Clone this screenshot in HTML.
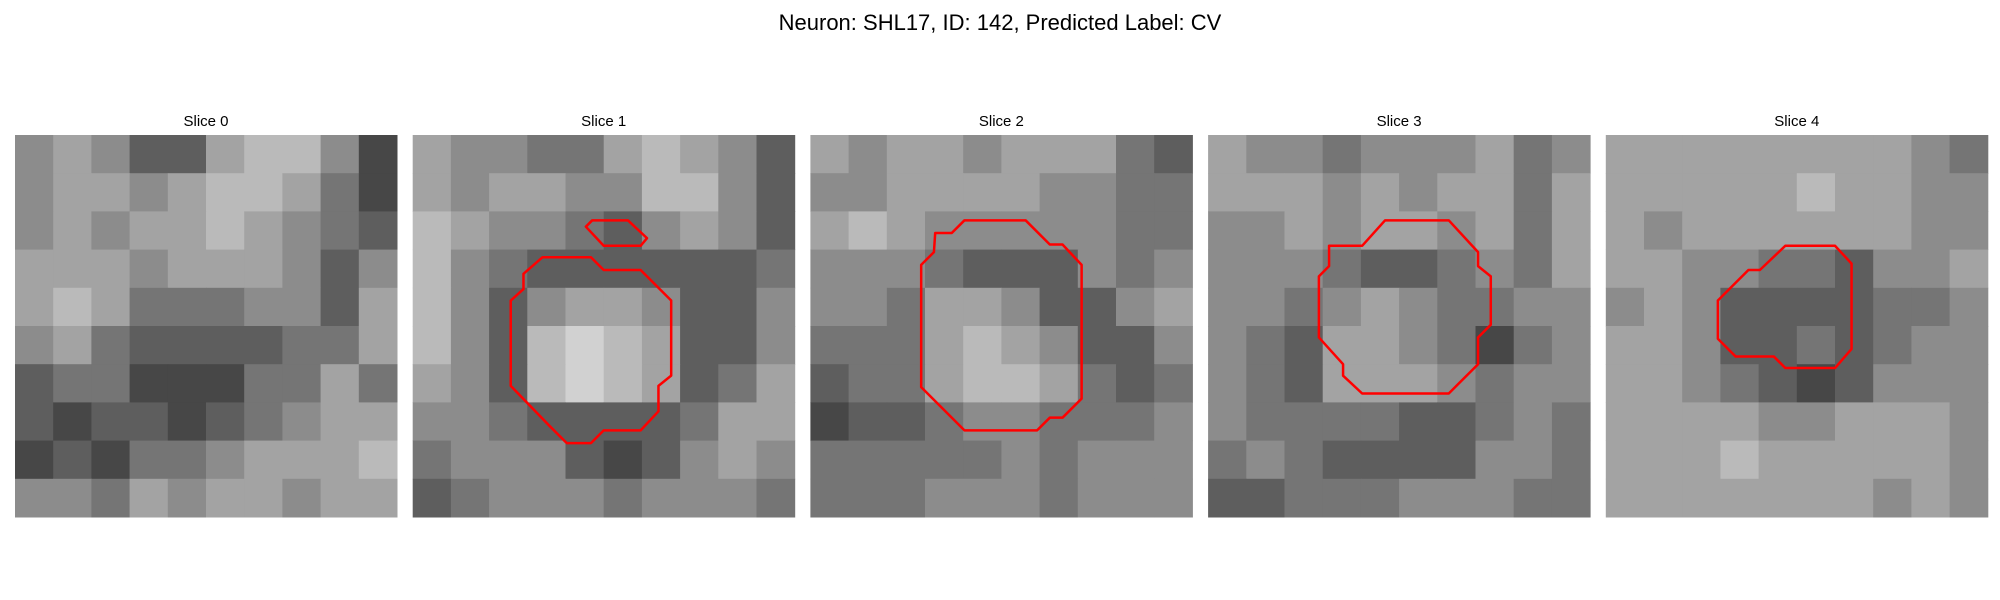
<!DOCTYPE html>
<html><head><meta charset="utf-8"><style>
body{margin:0;background:#fff;}
svg{display:block;font-family:"Liberation Sans",sans-serif;}
</style></head><body>
<svg id="fig" width="2000" height="600" viewBox="0 0 2000 600">
<text x="1000" y="30" text-anchor="middle" font-size="22" fill="#000">Neuron: SHL17, ID: 142, Predicted Label: CV</text>
</svg>
<script>
const sliceTitles = ["Slice 0","Slice 1","Slice 2","Slice 3","Slice 4"];
const slice0 = [[5,6,5,3,3,6,7,7,5,2],[5,6,6,5,6,7,7,6,4,2],[5,6,5,6,6,7,6,5,4,3],[6,6,6,5,6,6,6,5,3,5],[6,7,6,4,4,4,5,5,3,6],[5,6,4,3,3,3,3,4,4,6],[3,4,4,2,2,2,4,4,6,4],[3,2,3,3,2,3,4,5,6,6],[2,3,2,4,4,5,6,6,6,7],[5,5,4,6,5,6,6,5,6,6]];
const slice1 = [[6,5,5,4,4,6,7,6,5,3],[6,5,6,6,5,5,7,7,5,3],[7,6,5,5,4,3,5,6,5,3],[7,5,4,3,3,3,3,3,3,4],[7,5,3,5,6,6,5,3,3,5],[7,5,3,7,8,7,6,3,3,5],[6,5,3,7,8,7,6,3,4,6],[5,5,4,3,3,3,3,4,6,6],[4,5,5,5,3,2,3,5,6,5],[3,4,5,5,5,4,5,5,5,4]];
const slice2 = [[6,5,6,6,5,6,6,6,4,3],[5,5,6,6,6,6,5,5,4,4],[6,7,6,5,5,5,5,5,4,4],[5,5,5,4,3,3,3,5,4,5],[5,5,4,6,6,5,3,3,5,6],[4,4,4,6,7,6,5,3,3,5],[3,4,4,6,7,7,6,4,3,4],[2,3,3,4,5,5,4,4,4,5],[4,4,4,4,4,5,4,5,5,5],[4,4,4,5,5,5,4,5,5,5]];
const slice3 = [[6,5,5,4,5,5,5,6,4,5],[6,6,6,5,6,5,6,6,4,6],[5,5,6,5,6,6,5,6,4,6],[5,5,5,4,3,3,4,5,4,6],[5,5,4,5,6,5,4,4,5,5],[5,4,3,6,6,5,4,2,4,5],[5,4,3,6,6,6,5,4,5,5],[5,4,4,4,4,3,3,4,5,4],[4,5,4,3,3,3,3,5,5,4],[3,3,4,4,4,5,5,5,4,4]];
const slice4 = [[6,6,6,6,6,6,6,6,5,4],[6,6,6,6,6,7,6,6,5,5],[6,5,6,6,6,6,6,6,5,5],[6,6,5,5,4,4,3,5,5,6],[5,6,5,3,3,3,3,4,4,5],[6,6,5,3,3,4,3,4,5,5],[6,6,5,4,3,2,3,5,5,5],[6,6,6,6,5,5,6,6,6,5],[6,6,6,7,6,6,6,6,6,5],[6,6,6,6,6,6,6,5,6,5]];
const contours1 = [
 [[10.2,9.6],[14.0,9.6],[15.0,10.6],[17.9,10.6],[20.3,13.0],[20.3,18.9],[19.3,19.7],[19.3,21.7],[17.9,23.2],[15.0,23.2],[14.0,24.2],[12.1,24.2],[10.7,22.8],[7.7,19.7],[7.7,13.0],[8.7,12.1],[8.7,10.9]],
 [[14.1,6.7],[16.9,6.7],[18.4,8.1],[17.9,8.7],[15.0,8.7],[13.6,7.2]]];
const contours2 = [[[12.1,6.7],[16.9,6.7],[18.8,8.6],[19.8,8.6],[21.3,10.2],[21.3,20.7],[19.8,22.2],[18.8,22.2],[17.8,23.2],[12.1,23.2],[8.7,19.8],[8.7,10.2],[9.7,9.2],[9.8,7.7],[11.1,7.7]]];
const contours3 = [[[13.9,6.7],[18.9,6.7],[21.2,9.2],[21.2,10.3],[22.2,11.1],[22.2,14.9],[21.2,15.9],[21.2,18.0],[18.9,20.3],[12.1,20.3],[10.6,18.9],[10.6,18.0],[8.7,15.9],[8.7,11.1],[9.5,10.3],[9.5,8.7],[12.1,8.7]]];
const contours4 = [[[14.1,8.7],[18.0,8.7],[19.3,10.1],[19.3,16.8],[18.0,18.3],[14.1,18.3],[13.2,17.4],[10.2,17.4],[8.8,16.0],[8.8,13.0],[11.2,10.6],[12.1,10.6]]];
const grids = [slice0,slice1,slice2,slice3,slice4];
const contours = [[],contours1,contours2,contours3,contours4];

const NS="http://www.w3.org/2000/svg";
const svg=document.getElementById('fig');
const panelX0=15, panelPitch=397.7, panelY=135, panelSize=382;
function px(i,g){return panelX0+i*panelPitch+g/30*panelSize;}
function py(g){return panelY+g/30*panelSize;}
grids.forEach((grid,i)=>{
  const g=document.createElementNS(NS,'g');
  
  
  svg.appendChild(g);
  const t=document.createElementNS(NS,'text');
  
  
  t.setAttribute('x',px(i,15));t.setAttribute('y',126);
  t.setAttribute('text-anchor','middle');t.setAttribute('font-size','15');
  t.textContent=sliceTitles[i];g.appendChild(t);
  const n=grid.length, cs=30/n;
  grid.forEach((row,r)=>row.forEach((v,c)=>{
    const rc=document.createElementNS(NS,'rect');
    
    
    const x0=px(i,c*cs),x1=px(i,(c+1)*cs),y0=py(r*cs),y1=py((r+1)*cs);
    rc.setAttribute('x',x0);rc.setAttribute('y',y0);
    rc.setAttribute('width',x1-x0+0.5);rc.setAttribute('height',y1-y0+0.5);
    const gv=Math.round(25+v*23);
    rc.setAttribute('fill','rgb('+gv+','+gv+','+gv+')');
    g.appendChild(rc);
  }));
  contours[i].forEach((poly,k)=>{
    const p=document.createElementNS(NS,'polygon');
    
    
    p.setAttribute('points',poly.map(q=>px(i,q[0])+','+py(q[1])).join(' '));
    p.setAttribute('fill','none');p.setAttribute('stroke','#ff0000');
    p.setAttribute('stroke-width','2.5');p.setAttribute('stroke-linejoin','round');
    g.appendChild(p);
  });
});
</script>
</body></html>
